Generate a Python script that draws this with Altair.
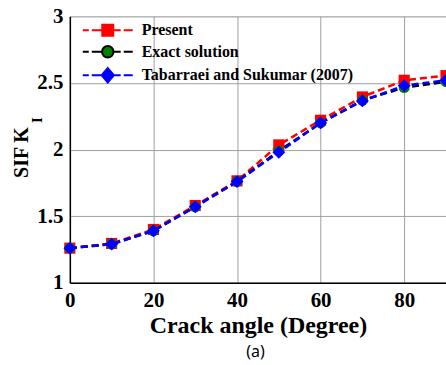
import altair as alt
import pandas as pd

# ---- data ----
angles = [0, 10, 20, 30, 40, 50, 60, 70, 80, 90]
present = [1.26, 1.295, 1.40, 1.58, 1.765, 2.035, 2.22, 2.395, 2.52, 2.555]
exact = [1.26, 1.29, 1.39, 1.57, 1.76, 1.99, 2.20, 2.37, 2.465, 2.51]
tabarraei = [1.26, 1.29, 1.39, 1.57, 1.76, 1.98, 2.20, 2.365, 2.48, 2.52]

series_names = ["Present", "Exact solution", "Tabarraei and Sukumar (2007)"]
line_colors = ["#ff0000", "#000000", "#0000ff"]
marker_colors = ["#ff0000", "#008000", "#0000ff"]
marker_shapes = ["square", "circle", "diamond"]
marker_sizes = [125, 120, 165]

x_ticks = [0, 20, 40, 60, 80]
y_ticks = [1, 1.5, 2, 2.5, 3]

rows = []
for name, vals in zip(series_names, [present, exact, tabarraei]):
    for a, v in zip(angles, vals):
        rows.append({"angle": a, "value": v, "series": name})
df = pd.DataFrame(rows)

SERIF = "Liberation Serif"

# legend symbols: dashed line with a marker in the middle (units: 1 = 9px)
dash = "M-2.78,0L-2.11,0M-1.78,0L-0.6,0M0.6,0L1.44,0M1.78,0L2.78,0"
legend_paths = [
    dash + "M-0.61,-0.61L0.61,-0.61L0.61,0.61L-0.61,0.61Z",
    dash + "M-0.64,0A0.64,0.64 0 1,0 0.64,0A0.64,0.64 0 1,0 -0.64,0Z",
    dash + "M0,-0.8L0.68,0L0,0.8L-0.68,0Z",
]

x_enc = alt.X(
    "angle:Q",
    scale=alt.Scale(domain=[0, 90], nice=False, zero=False),
    axis=alt.Axis(
        values=x_ticks, title="Crack angle (Degree)", format="d",
        labelFont=SERIF, labelFontWeight="bold", labelFontSize=21,
        labelColor="black", labelPadding=7, ticks=False,
        titleFont=SERIF, titleFontWeight="bold", titleFontSize=24,
        titleColor="black", titleBaseline="alphabetic", titleY=50,
        grid=True, gridColor="#a0a0a0", gridWidth=1,
        domainColor="black", domainWidth=1.5, labelFlush=False,
    ),
)
y_enc = alt.Y(
    "value:Q",
    scale=alt.Scale(domain=[1, 3], nice=False, zero=False),
    axis=alt.Axis(
        values=y_ticks, title="SIF K", format="~g",
        labelFont=SERIF, labelFontWeight="bold", labelFontSize=21,
        labelColor="black", labelPadding=7, ticks=False,
        titleFont=SERIF, titleFontWeight="bold", titleFontSize=20,
        titleColor="black", titleBaseline="alphabetic", titleAngle=270,
        titleX=-42, titleY=136, titleAlign="center",
        grid=True, gridColor="#a0a0a0", gridWidth=1,
        domainColor="black", domainWidth=1.5, labelFlush=False,
    ),
)

base = alt.Chart(df)
layers = []
for name, lc, mc, shp, sz in zip(series_names, line_colors, marker_colors,
                                 marker_shapes, marker_sizes):
    sub = base.transform_filter(alt.datum.series == name)
    layers.append(
        sub.mark_line(color=lc, strokeWidth=2.5, strokeDash=[7, 4]).encode(x=x_enc, y=y_enc)
    )
    layers.append(
        sub.mark_point(filled=True, shape=shp, size=sz, color=mc, opacity=1).encode(x=x_enc, y=y_enc)
    )

leg_kwargs = dict(
    title=None, orient="none", legendX=28, legendY=4, padding=0,
    symbolSize=324, symbolStrokeWidth=2, symbolOpacity=1,
    labelFont=SERIF, labelFontWeight="bold", labelFontSize=16,
    labelColor="black", labelOffset=24, rowPadding=1.5, labelLimit=400,
)
legend_layer = base.transform_filter("datum.angle < 0").mark_point(
    filled=True, opacity=1, strokeWidth=2
).encode(
    x=x_enc, y=y_enc,
    fill=alt.Fill("series:N", scale=alt.Scale(domain=series_names, range=marker_colors),
                  legend=alt.Legend(**leg_kwargs)),
    stroke=alt.Stroke("series:N", scale=alt.Scale(domain=series_names, range=line_colors),
                      legend=alt.Legend(**leg_kwargs)),
    shape=alt.Shape("series:N", scale=alt.Scale(domain=series_names, range=legend_paths),
                    legend=alt.Legend(**leg_kwargs)),
)

sub_i = alt.Chart(pd.DataFrame({"t": ["I"]})).mark_text(
    font=SERIF, fontWeight="bold", fontSize=15, angle=270,
    align="center", baseline="alphabetic", color="black"
).encode(text="t:N", x=alt.value(-28), y=alt.value(104))

caption = alt.Chart(pd.DataFrame({"t": ["(a)"]})).mark_text(
    font="Noto Sans", fontSize=16, align="center", baseline="alphabetic", color="black"
).encode(text="t:N", x=alt.value(186), y=alt.value(341))

chart = alt.layer(*layers, legend_layer, sub_i, caption).properties(
    width=377, height=267,
    autosize=alt.AutoSizeParams(type="none"),
    padding={"left": 70, "top": 16, "right": 0, "bottom": 82},
).configure_view(stroke="black", strokeWidth=1).configure(background="white")

chart.save("out.html", embed_options={"renderer": "svg", "actions": False})
